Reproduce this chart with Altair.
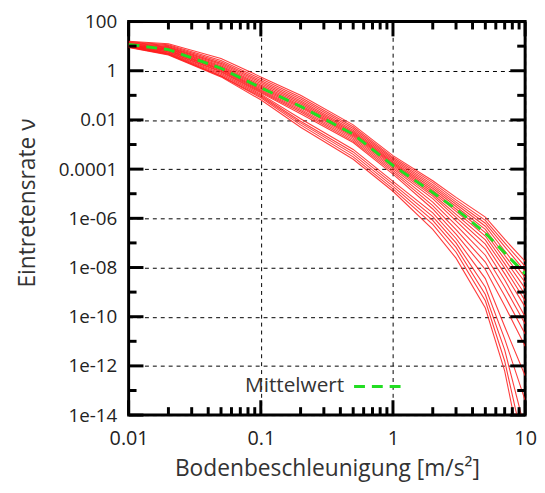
import altair as alt
import pandas as pd

# x grid (ground acceleration, m/s^2)
x_vals = [0.01, 0.02, 0.05, 0.1, 0.2, 0.5, 1, 2, 3, 5, 7, 10]

# log10 of exceedance rate for each hazard curve
c01 = [1.20, 1.10, 0.50, -0.25, -1.00, -2.20, -3.45, -4.47, -5.15, -5.95, -6.85, -7.75]
c02 = [1.18, 1.06, 0.42, -0.33, -1.08, -2.28, -3.52, -4.55, -5.25, -6.08, -7.00, -7.95]
c03 = [1.16, 1.02, 0.36, -0.40, -1.15, -2.35, -3.58, -4.63, -5.34, -6.20, -7.15, -8.15]
c04 = [1.14, 0.98, 0.30, -0.46, -1.22, -2.42, -3.64, -4.70, -5.43, -6.32, -7.32, -8.40]
c05 = [1.12, 0.95, 0.25, -0.52, -1.28, -2.48, -3.70, -4.78, -5.52, -6.45, -7.50, -8.60]
c06 = [1.10, 0.92, 0.20, -0.58, -1.34, -2.53, -3.75, -4.86, -5.62, -6.58, -7.66, -8.85]
c07 = [1.08, 0.89, 0.16, -0.63, -1.40, -2.58, -3.80, -4.94, -5.72, -6.72, -7.84, -9.10]
c08 = [1.07, 0.87, 0.12, -0.68, -1.45, -2.63, -3.86, -5.02, -5.84, -6.88, -8.02, -9.35]
c09 = [1.05, 0.84, 0.08, -0.73, -1.50, -2.68, -3.92, -5.10, -5.96, -7.05, -8.25, -9.60]
c10 = [1.04, 0.82, 0.05, -0.78, -1.56, -2.74, -3.98, -5.20, -6.10, -7.25, -8.50, -10.00]
c11 = [1.03, 0.80, 0.02, -0.82, -1.62, -2.80, -4.05, -5.34, -6.28, -7.50, -8.80, -10.30]
c12 = [1.02, 0.77, -0.02, -0.86, -1.68, -2.86, -4.12, -5.48, -6.46, -7.78, -9.15, -10.70]
c13 = [1.00, 0.75, -0.05, -0.90, -1.75, -2.92, -4.20, -5.62, -6.64, -8.08, -9.55, -11.20]
c14 = [1.00, 0.72, -0.10, -0.95, -1.95, -3.20, -4.50, -5.78, -6.82, -8.45, -10.40, -12.40]
c15 = [0.98, 0.70, -0.15, -1.00, -2.05, -3.30, -4.60, -5.93, -7.00, -8.80, -10.90, -13.40]
c16 = [0.97, 0.68, -0.20, -1.05, -2.12, -3.40, -4.70, -6.08, -7.18, -9.10, -11.35, -14.60]
c17 = [0.96, 0.66, -0.22, -1.10, -2.20, -3.50, -4.80, -6.25, -7.38, -9.35, -11.80, -15.50]
c18 = [0.95, 0.64, -0.25, -1.18, -2.30, -3.60, -4.90, -6.45, -7.62, -9.65, -12.20, -16.30]
curves = [c01, c02, c03, c04, c05, c06, c07, c08, c09, c10, c11, c12, c13, c14, c15, c16, c17, c18]

# mean curve (Mittelwert), log10
mean_log = [1.07, 0.86, 0.10, -0.69, -1.45, -2.58, -3.85, -4.95, -5.62, -6.60, -7.40, -8.25]

# axis ticks
y_major = [1e2, 1, 1e-2, 1e-4, 1e-6, 1e-8, 1e-10, 1e-12, 1e-14]
y_minor = [1e1, 1e-1, 1e-3, 1e-5, 1e-7, 1e-9, 1e-11, 1e-13]
y_labels = ["1e-14", "1e-12", "1e-10", "1e-08", "1e-06", "0.0001", "0.01", "1", "100"]
x_major = [0.01, 0.1, 1, 10]
x_minor = [m * d for d in [0.01, 0.1, 1] for m in range(2, 10)]
x_labels = ["0.01", "0.1", "1", "10"]

W, H = 401, 398
FONT = "Open Sans"

rows = []
for i, c in enumerate(curves):
    for xv, lv in zip(x_vals, c):
        rows.append({"curve": f"k{i:02d}", "x": xv, "y": 10 ** lv})
df_curves = pd.DataFrame(rows)
df_mean = pd.DataFrame({"x": x_vals, "y": [10 ** v for v in mean_log]})

xscale = alt.Scale(type="log", domain=[0.01, 10], nice=False)
yscale = alt.Scale(type="log", domain=[1e-14, 100], nice=False)

y_label_expr = "[" + ",".join(f"'{s}'" for s in y_labels) + "][(round(log(datum.value)/LN10)+14)/2]"
x_label_expr = "[" + ",".join(f"'{s}'" for s in x_labels) + "][round(log(datum.value)/LN10)+2]"

xaxis = alt.Axis(
    values=x_major, labelExpr=x_label_expr, title="Bodenbeschleunigung [m/s²]",
    titleX=W / 2, titleY=54, titleAlign="center", titleBaseline="middle",
    labelPadding=14, labelFlush=False, labelFontSize=20)
yaxis = alt.Axis(
    values=y_major, labelExpr=y_label_expr, title="Eintretensrate ν",
    titleX=-102, titleY=183, titleAngle=270, titleAlign="center",
    titleBaseline="middle", labelPadding=12, labelFlush=False, labelFontSize=19)


def X(field):
    return alt.X(field, type="quantitative", scale=xscale, axis=xaxis)


def Y(field):
    return alt.Y(field, type="quantitative", scale=yscale, axis=yaxis)


red = alt.Chart(df_curves).mark_line(
    color="#ff1a1a", strokeWidth=1.1, opacity=0.85, clip=True
).encode(x=X("x"), y=Y("y"), detail="curve:N")

mean = alt.Chart(df_mean).mark_line(
    color="#22dd22", strokeWidth=3, strokeDash=[11, 7], clip=True
).encode(x=X("x"), y=Y("y"))


def yticks(vals, length):
    d = pd.DataFrame({"x": [1.0] * len(vals), "y": vals})
    left = alt.Chart(d).mark_rule(color="black", strokeWidth=3).encode(
        y=Y("y"), x=alt.value(0), x2=alt.value(length))
    right = alt.Chart(d).mark_rule(color="black", strokeWidth=3).encode(
        y=Y("y"), x=alt.value(W - length), x2=alt.value(W))
    return [left, right]


def xticks(vals, length):
    d = pd.DataFrame({"x": vals, "y": [1.0] * len(vals)})
    bottom = alt.Chart(d).mark_rule(color="black", strokeWidth=3).encode(
        x=X("x"), y=alt.value(H - length), y2=alt.value(H))
    top = alt.Chart(d).mark_rule(color="black", strokeWidth=3).encode(
        x=X("x"), y=alt.value(0), y2=alt.value(length))
    return [bottom, top]


legend_text = alt.Chart(pd.DataFrame({"t": ["Mittelwert"]})).mark_text(
    align="right", baseline="middle", font=FONT, fontSize=21, color="#333333"
).encode(text="t:N", x=alt.value(218), y=alt.value(369))

legend_line = alt.Chart(pd.DataFrame({"t": ["Mittelwert"]})).mark_rule(
    color="#22dd22", strokeWidth=3, strokeDash=[11, 7]
).encode(x=alt.value(228), x2=alt.value(276), y=alt.value(369))

layers = [red, mean] + yticks(y_major, 15) + yticks(y_minor, 8) + xticks(x_major, 15) + xticks(x_minor, 8) + [legend_text, legend_line]

chart = alt.layer(*layers).properties(
    width=W, height=H,
    autosize=alt.AutoSizeParams(type="none"),
    padding={"left": 122, "top": 11, "right": 12, "bottom": 68},
).configure_view(
    stroke="black", strokeWidth=3
).configure_axis(
    domain=False, ticks=False, tickSize=0,
    grid=True, gridColor="black", gridDash=[4, 4], gridWidth=1, gridOpacity=1,
    labelFont=FONT, labelFontSize=20, labelColor="#222222",
    titleFont=FONT, titleFontSize=23, titleColor="#333333", titleFontWeight="normal",
)

chart.save("out.html", embed_options={"renderer": "svg", "actions": False})
